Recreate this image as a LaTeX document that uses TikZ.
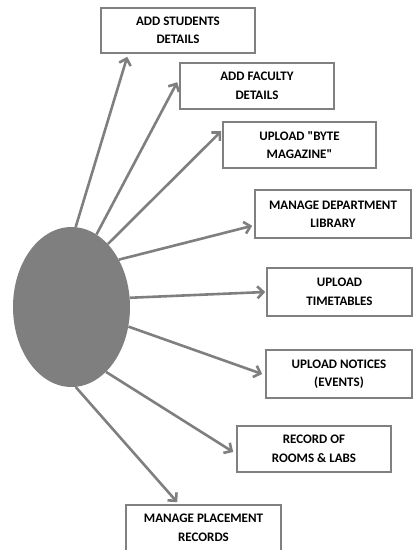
\documentclass[tikz,border=0pt]{standalone}
\usepackage{fontspec}
\setmainfont{Carlito}
\usetikzlibrary{arrows.meta,shapes.geometric}
\definecolor{dgray}{HTML}{7F7F7F}
\definecolor{lgray}{HTML}{808080}
\begin{document}
\begin{tikzpicture}[x=1pt,y=-1pt,
  box/.style={draw=lgray, line width=1.6pt, fill=white, align=center, inner sep=0pt,
    font=\fontsize{13}{18.5}\selectfont\bfseries, text=black},
  conn/.style={draw=dgray, line width=2.6pt, -{Straight Barb[length=6pt,width=12pt]}}]
\clip (0,0) rectangle (414,550);
\useasboundingbox (0,0) rectangle (414,550);
\node[ellipse, fill=dgray, inner sep=0pt, minimum width=117pt, minimum height=160pt] (c) at (71.5,307) {};
\node[box, minimum width=154pt, minimum height=45pt] (b1) at (178,30.5) {ADD STUDENTS\\DETAILS};
\node[box, minimum width=154pt, minimum height=46pt] (b2) at (257,86) {ADD FACULTY\\DETAILS};
\node[box, minimum width=153pt, minimum height=46pt] (b3) at (299.5,145) {UPLOAD \textquotedbl BYTE\\MAGAZINE\textquotedbl};
\node[box, minimum width=156pt, minimum height=48pt] (b4) at (333,214) {MANAGE DEPARTMENT\\LIBRARY};
\node[box, minimum width=145pt, minimum height=48pt] (b5) at (339.5,292) {UPLOAD\\TIMETABLES};
\node[box, minimum width=146pt, minimum height=48pt] (b6) at (339,374) {UPLOAD NOTICES\\(EVENTS)};
\node[box, minimum width=154pt, minimum height=46pt] (b7) at (314,449) {RECORD OF\\ROOMS \& LABS};
\node[box, minimum width=155pt, minimum height=46pt] (b8) at (203.5,528) {MANAGE PLACEMENT\\RECORDS};
\draw[conn] (c.87.5) -- ([xshift=27pt,yshift=-3pt]b1.south west);
\draw[conn] (c.71) -- ([xshift=-2pt,yshift=-20pt]b2.north west);
\draw[conn] (c.60) -- ([xshift=-1pt,yshift=-10pt]b3.north west);
\draw[conn] (c.45) -- ([xshift=-2pt,yshift=13pt]b4.south west);
\draw[conn] (c.9.7) -- ([xshift=-1pt]b5.west);
\draw[conn] (c.-19.7) -- ([xshift=-3pt]b6.west);
\draw[conn] (c.-62.7) -- ([xshift=-3pt,yshift=-3pt]b7.west);
\draw[conn] (c.-87.5) -- ([xshift=52pt,yshift=2pt]b8.north west);
\end{tikzpicture}
\end{document}
